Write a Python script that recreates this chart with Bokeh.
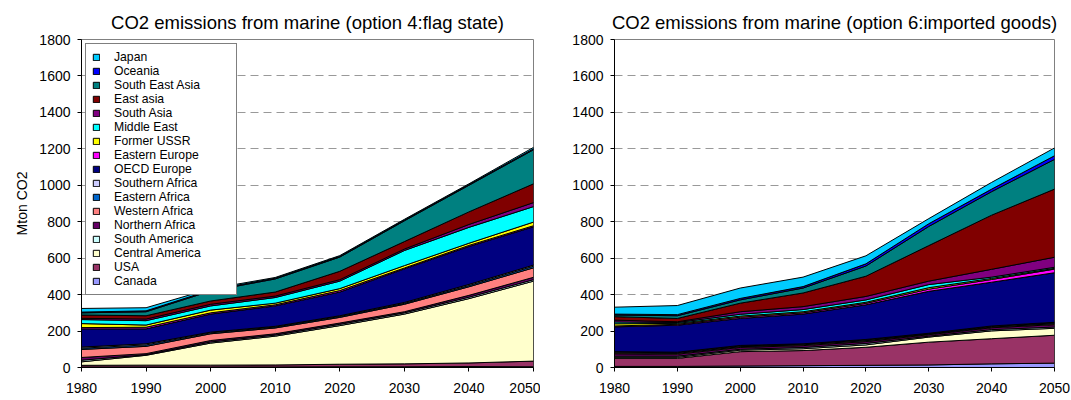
from bokeh.plotting import figure
from bokeh.layouts import row
from bokeh.models import FixedTicker
from bokeh.embed import file_html
from bokeh.resources import INLINE
import numpy as np

years = [1980, 1990, 2000, 2010, 2020, 2030, 2040, 2050]
y_ticks = [0, 200, 400, 600, 800, 1000, 1200, 1400, 1600, 1800]

regions = ["Canada", "USA", "Central America", "South America", "Northern Africa",
           "Western Africa", "Eastern Africa", "Southern Africa", "OECD Europe",
           "Eastern Europe", "Former USSR", "Middle East", "South Asia", "East asia",
           "South East Asia", "Oceania", "Japan"]
colors = ["#9999FF", "#993366", "#FFFFCC", "#CCFFFF", "#660066", "#FF8080", "#0066CC",
          "#CCCCFF", "#000080", "#FF00FF", "#FFFF00", "#00FFFF", "#800080", "#800000",
          "#008080", "#0000FF", "#00CCFF"]

# option 4: flag state (Mton CO2)
flag_canada = [3, 3, 3, 3, 4, 4, 5, 4]
flag_usa = [9, 10, 10, 11, 14, 16, 20, 31]
flag_central_america = [19, 54, 121, 158, 212, 273, 353, 439]
flag_south_america = [9, 3, 6, 6, 7, 7, 8, 8]
flag_northern_africa = [15, 6, 8, 7, 7, 6, 10, 13]
flag_western_africa = [44, 40, 37, 32, 31, 41, 47, 52]
flag_eastern_africa = [7, 8, 5, 5, 5, 5, 7, 9]
flag_southern_africa = [6, 6, 4, 4, 4, 5, 6, 6]
flag_oecd_europe = [100, 82, 99, 112, 130, 184, 208, 210]
flag_eastern_europe = [7, 9, 7, 6, 8, 5, 6, 6]
flag_former_ussr = [22, 12, 15, 9, 11, 13, 12, 20]
flag_middle_east = [22, 24, 23, 31, 41, 83, 87, 85]
flag_south_asia = [7, 9, 9, 8, 8, 8, 16, 22]
flag_east_asia = [18, 18, 18, 22, 46, 41, 69, 103]
flag_south_east_asia = [12, 22, 55, 72, 78, 114, 146, 187]
flag_oceania = [4, 5, 5, 4, 4, 4, 4, 5]
flag_japan = [20, 17, 7, 4, 4, 4, 4, 8]

# option 6: imported goods (Mton CO2)
imp_canada = [6, 6, 8, 10, 12, 14, 20, 24]
imp_usa = [44, 44, 79, 83, 99, 125, 138, 153]
imp_central_america = [6, 6, 8, 10, 13, 28, 43, 38]
imp_south_america = [6, 6, 5, 7, 8, 5, 7, 7]
imp_northern_africa = [13, 11, 10, 10, 10, 8, 10, 13]
imp_western_africa = [5, 5, 4, 5, 5, 3, 4, 5]
imp_eastern_africa = [4, 3, 4, 3, 4, 3, 3, 5]
imp_southern_africa = [3, 3, 3, 2, 3, 2, 3, 3]
imp_oecd_europe = [136, 148, 148, 163, 190, 230, 240, 272]
imp_eastern_europe = [5, 5, 7, 7, 8, 12, 15, 20]
imp_former_ussr = [12, 5, 6, 6, 6, 8, 6, 4]
imp_middle_east = [10, 5, 10, 12, 13, 17, 7, 6]
imp_south_asia = [10, 4, 14, 16, 19, 19, 43, 55]
imp_east_asia = [19, 18, 47, 75, 111, 195, 297, 374]
imp_south_east_asia = [9, 15, 18, 27, 56, 105, 129, 163]
imp_oceania = [5, 6, 8, 8, 12, 15, 14, 20]
imp_japan = [38, 50, 57, 52, 44, 28, 37, 43]

flag_series = [flag_canada, flag_usa, flag_central_america, flag_south_america,
               flag_northern_africa, flag_western_africa, flag_eastern_africa,
               flag_southern_africa, flag_oecd_europe, flag_eastern_europe,
               flag_former_ussr, flag_middle_east, flag_south_asia, flag_east_asia,
               flag_south_east_asia, flag_oceania, flag_japan]
imp_series = [imp_canada, imp_usa, imp_central_america, imp_south_america,
              imp_northern_africa, imp_western_africa, imp_eastern_africa,
              imp_southern_africa, imp_oecd_europe, imp_eastern_europe,
              imp_former_ussr, imp_middle_east, imp_south_asia, imp_east_asia,
              imp_south_east_asia, imp_oceania, imp_japan]

FONT = "Liberation Sans"


def make_chart(title, series_list, width, left, right, top, bottom, show_legend, y_label):
    p = figure(width=width, height=400, x_range=(1980, 2050), y_range=(0, 1800),
               output_backend="svg", toolbar_location=None, title=title,
               min_border_left=left, min_border_right=right,
               min_border_top=top, min_border_bottom=bottom)
    p.title.text_font = FONT
    p.title.text_font_size = "18.5px"
    p.title.text_font_style = "normal"
    p.title.align = "center"
    p.title.text_color = "black"
    p.title.standoff = 14

    base = np.zeros(len(years))
    for name, color, vals in zip(regions, colors, series_list):
        top_vals = base + np.array(vals, dtype=float)
        xs = list(years) + list(years[::-1])
        ys = list(top_vals) + list(base[::-1])
        kw = dict(legend_label=name) if show_legend else {}
        p.patch(xs, ys, fill_color=color, line_color="black", line_width=1, **kw)
        base = top_vals

    for ax in (p.xaxis[0], p.yaxis[0]):
        ax.axis_line_color = "black"
        ax.major_tick_line_color = "black"
        ax.major_tick_out = 4
        ax.major_tick_in = 0
        ax.minor_tick_out = 0
        ax.minor_tick_in = 0
        ax.major_label_text_font = FONT
        ax.major_label_text_font_size = "14px"
        ax.major_label_text_color = "black"
    p.xaxis.ticker = FixedTicker(ticks=years)
    p.yaxis.ticker = FixedTicker(ticks=y_ticks)
    p.xaxis.major_label_standoff = 11
    p.yaxis.major_label_standoff = 7
    if y_label:
        p.yaxis.axis_label = y_label
        p.yaxis.axis_label_text_font = FONT
        p.yaxis.axis_label_text_font_size = "14px"
        p.yaxis.axis_label_text_font_style = "normal"
        p.yaxis.axis_label_text_color = "black"
        p.yaxis.axis_label_standoff = 6

    p.xgrid.visible = False
    p.ygrid.grid_line_color = "#999999"
    p.ygrid.grid_line_dash = "8 5"
    p.outline_line_color = "#808080"
    p.background_fill_color = "white"
    p.border_fill_color = "white"

    if show_legend:
        leg = p.legend[0]
        leg.items = list(reversed(leg.items))
        leg.location = "top_left"
        leg.margin = 4
        leg.padding = 6
        leg.spacing = 0
        leg.glyph_width = 8
        leg.glyph_height = 8
        leg.label_height = 10
        leg.label_standoff = 14
        leg.label_width = 116
        leg.label_text_font = FONT
        leg.label_text_font_size = "12.2px"
        leg.label_text_color = "black"
        leg.border_line_color = "black"
        leg.border_line_width = 1
        leg.background_fill_color = "white"
        leg.background_fill_alpha = 1.0
    return p


left = make_chart("CO2 emissions from marine (option 4:flag state)", flag_series,
                  540, 81, 7, 39, 33, True, "Mton CO2")
right = make_chart("CO2 emissions from marine (option 6:imported goods)", imp_series,
                   531, 74, 17, 39, 33, False, None)

layout = row(left, right)
open("out.html", "w").write(file_html(layout, INLINE))
